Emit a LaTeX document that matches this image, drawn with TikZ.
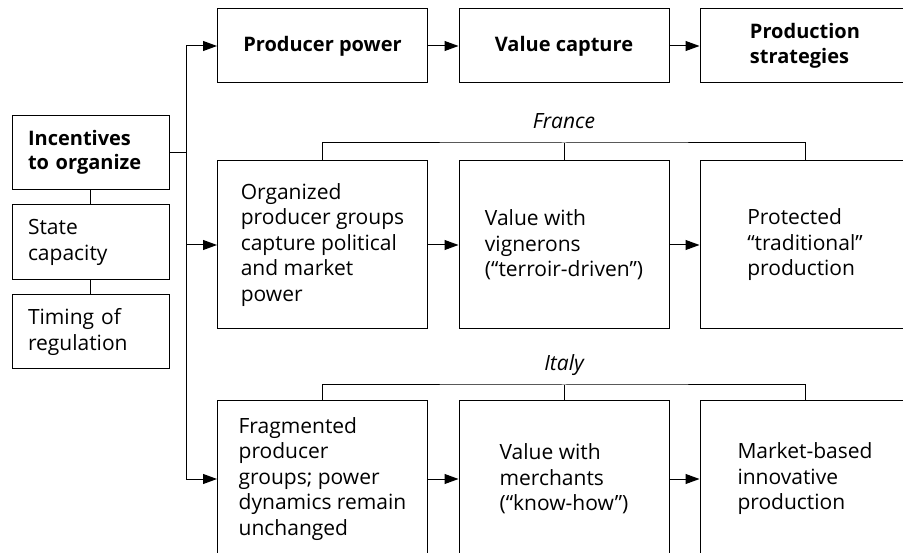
\documentclass[tikz,border=0pt]{standalone}
\usepackage{fontspec}
\setmainfont{Open Sans}
\usetikzlibrary{arrows.meta}

\begin{document}
\begin{tikzpicture}[x=1pt, y=-1pt,
    box/.style={draw, line width=1pt, align=left, inner sep=0pt,
        font=\fontsize{21}{25.5}\selectfont},
    boldbox/.style={font=\fontsize{20}{24.5}\selectfont\bfseries},
    topbox/.style={box, boldbox, minimum width=210pt, minimum height=74pt},
    midbox/.style={box, minimum width=210pt, minimum height=168pt},
    lowbox/.style={box, minimum width=210pt, minimum height=156pt},
    leftbox/.style={box, inner xsep=16pt, text width=125pt, minimum height=74pt},
    link/.style={line width=1pt},
    arr/.style={link, -{Triangle[length=14pt, width=10pt]}},
    country/.style={font=\fontsize{21}{25}\selectfont\itshape, inner sep=0pt,
        text depth=0pt, above=14pt}]
    \clip (0,0) rectangle (903,553);

    % left column
    \node[leftbox, boldbox] (inc) at (90.5,152.5) {Incentives\\to organize};
    \node[leftbox, minimum height=75pt] (state) at (90.5,242.5) {State\\capacity};
    \node[leftbox] (timing) at (90.5,332) {Timing of\\regulation};
    \draw[link] (inc) -- (state);
    \draw[link] (state) -- (timing);

    % top row
    \node[topbox] (power) at (322.5,46) {Producer power};
    \node[topbox] (value) at (564,46) {Value capture};
    \node[topbox] (strat) at (805,46) {Production\\strategies};

    % France
    \node[midbox] (frorg) at (322.5,245) {Organized\\producer groups\\capture political\\and market\\power};
    \node[midbox] (frval) at (564,245) {Value with\\vignerons\\(“terroir-driven”)};
    \node[midbox] (frprod) at (805,245) {Protected\\“traditional”\\production};
    \coordinate (frbar) at (564,143);
    \node[country] (france) at (frbar) {France};

    % Italy
    \node[lowbox] (itorg) at (322.5,479) {Fragmented\\producer\\groups; power\\dynamics remain\\unchanged};
    \node[lowbox] (itval) at (564,479) {Value with\\merchants\\(“know-how”)};
    \node[lowbox] (itprod) at (805,479) {Market-based\\innovative\\production};
    \coordinate (itbar) at (564,385);
    \node[country] (italy) at (itbar) {Italy};

    % brackets over the country rows
    \draw[link] (frorg.north) |- (frbar) -| (frprod.north);
    \draw[link] (frval.north) -- (frbar);
    \draw[link] (itorg.north) |- (itbar) -| (itprod.north);
    \draw[link] (itval.north) -- (itbar);

    % spine from the incentives box
    \coordinate (spine) at (186,152.5);
    \draw[link] (inc.east) -- (spine);
    \draw[link] (spine |- power.west) -- (spine |- itorg.west);
    \draw[arr] (spine |- power.west) -- (power.west);
    \draw[arr] (spine |- frorg.west) -- (frorg.west);
    \draw[arr] (spine |- itorg.west) -- (itorg.west);

    % arrows along the rows
    \draw[arr] (power) -- (value);
    \draw[arr] (value) -- (strat);
    \draw[arr] (frorg) -- (frval);
    \draw[arr] (frval) -- (frprod);
    \draw[arr] (itorg) -- (itval);
    \draw[arr] (itval) -- (itprod);
\end{tikzpicture}
\end{document}
